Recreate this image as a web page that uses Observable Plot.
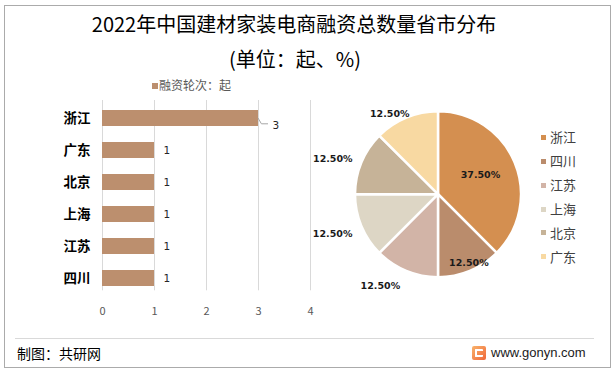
<!DOCTYPE html>
<html>
<head>
<meta charset="utf-8">
<script src="https://cdn.jsdelivr.net/npm/d3@7"></script>
<script src="https://cdn.jsdelivr.net/npm/@observablehq/plot@0.6"></script>
<style>
  html, body { margin: 0; padding: 0; background: #fff; }
  #root { position: relative; width: 616px; height: 375px; overflow: hidden; font-family: "Noto Sans CJK SC", sans-serif; }
  .abs { position: absolute; white-space: nowrap; }
  .abs svg { overflow: visible; }
</style>
</head>
<body>
<div id="root"></div>
<script>
// ---- data ----
const titleText = "2022年中国建材家装电商融资总数量省市分布";
const subtitleText = "(单位：起、%)";
const barSeriesName = "融资轮次：起";
const barCategories = ["浙江", "广东", "北京", "上海", "江苏", "四川"];
const barValues = [3, 1, 1, 1, 1, 1];
const xTicks = [0, 1, 2, 3, 4];
const pieCategories = ["浙江", "四川", "江苏", "上海", "北京", "广东"];
const pieShares = [37.5, 12.5, 12.5, 12.5, 12.5, 12.5];
const pieColors = ["#D48F50", "#BA8C6C", "#D2B4A7", "#DDD6C5", "#C6B398", "#F8D9A2"];
const barColor = "#BC8F6E";
const sourceText = "制图：共研网";
const siteText = "www.gonyn.com";

// ---- layout helpers (positions / styles only) ----
const root = document.getElementById("root");
function addDiv(css, text) {
  const d = document.createElement("div");
  d.className = "abs";
  d.style.cssText = css;
  if (text != null) d.textContent = text;
  root.appendChild(d);
  return d;
}

// frame and footer separator
addDiv("left:4px;top:5px;width:607px;height:363px;border:1px solid #ABABAB;box-sizing:border-box;");
addDiv("left:15px;top:338px;width:579px;height:1px;background:#D9D9D9;");

// title & subtitle
addDiv("left:0;width:588px;text-align:center;top:14px;font-size:20px;line-height:20px;color:#000;", titleText);
addDiv("left:0;width:590px;text-align:center;top:49px;font-size:20px;line-height:20px;color:#000;", subtitleText);

// bar legend
addDiv(`left:152px;top:83px;width:6px;height:6px;background:${barColor};`);
addDiv("left:159px;top:79px;font-size:12px;line-height:12px;color:#595959;", barSeriesName);

// ---- bar chart ----
const barData = barCategories.map((c, i) => ({category: c, value: barValues[i]}));
const maxValue = d3.max(barValues);
const maxCategory = barData.find(d => d.value === maxValue).category;

const barPlot = Plot.plot({
  width: 325,
  height: 330,
  marginLeft: 102,
  marginRight: 15,
  marginTop: 100,
  marginBottom: 34.7,
  style: {fontFamily: "'Noto Sans CJK SC', sans-serif", background: "transparent", overflow: "visible"},
  x: {domain: [0, 4]},
  y: {domain: barCategories, paddingInner: 0.5, paddingOuter: 0.25},
  marks: [
    Plot.ruleX(xTicks, {stroke: "#D9D9D9", strokeWidth: 1, insetBottom: 5}),
    Plot.barX(barData, {x: "value", y: "category", fill: barColor}),
    Plot.axisX(xTicks, {tickSize: 0, tickPadding: 11, fontSize: 11, fill: "#595959", color: "#595959", label: null}),
    Plot.axisY({tickSize: 0, tickPadding: 12, fontSize: 13.5, fontWeight: "bold", fill: "#000", color: "#000", label: null}),
    Plot.text(barData, {
      filter: d => d.value !== maxValue,
      x: "value", y: "category", text: d => String(d.value),
      dx: 9, textAnchor: "start", fontSize: 10.5, fontFamily: "DejaVu Sans", fill: "#262626"
    }),
    Plot.text(barData, {
      filter: d => d.value === maxValue,
      x: "value", y: "category", text: d => String(d.value),
      dx: 14, dy: 6.8, textAnchor: "start", fontSize: 10.5, fontFamily: "DejaVu Sans", fill: "#262626"
    }),
    (index, scales) => {
      const x0 = scales.x(maxValue);
      const bw = typeof scales.y.bandwidth === "function" ? scales.y.bandwidth() : 0;
      const yc = scales.y(maxCategory) + bw / 2;
      return d3.create("svg:path")
        .attr("d", `M${x0},${yc}L${x0 + 3.4},${yc + 5.8}L${x0 + 10},${yc + 5.8}`)
        .attr("fill", "none").attr("stroke", "#A6A6A6").attr("stroke-width", 1)
        .node();
    }
  ]
});
const barHolder = addDiv("left:0;top:0;");
barHolder.appendChild(barPlot);

// ---- pie chart ----
const pieData = pieCategories.map((c, i) => ({category: c, share: pieShares[i], color: pieColors[i]}));
const arcs = d3.pie().sort(null).value(d => d.share).startAngle(0).endAngle(2 * Math.PI)(pieData);
// label placement: radius as fraction of pie radius, angular offset (deg) from slice middle
const labelPlacement = [
  {r: 0.56, da: -3},
  {r: 0.91, da: -1.2},
  {r: 1.31, da: 9.8},
  {r: 1.36, da: 2.2},
  {r: 1.345, da: -3.7},
  {r: 1.14, da: -8.5}
];
const labelData = arcs.map((a, i) => {
  const mid = (a.startAngle + a.endAngle) / 2 + labelPlacement[i].da * Math.PI / 180;
  const r = labelPlacement[i].r;
  return {x: r * Math.sin(mid), y: r * Math.cos(mid), text: a.data.share.toFixed(2) + "%"};
});

const piePlot = Plot.plot({
  width: 310,
  height: 220,
  marginLeft: 55,
  marginRight: 89,
  marginTop: 21.7,
  marginBottom: 33.3,
  style: {background: "transparent", overflow: "visible"},
  x: {domain: [-1, 1], axis: null},
  y: {domain: [-1, 1], axis: null},
  marks: [
    (index, scales) => {
      const cx = scales.x(0), cy = scales.y(0);
      const r = scales.x(1) - scales.x(0);
      const g = d3.create("svg:g").attr("transform", `translate(${cx},${cy})`);
      const arc = d3.arc().innerRadius(0).outerRadius(r);
      g.selectAll("path").data(arcs).join("path")
        .attr("d", arc)
        .attr("fill", d => d.data.color)
        .attr("stroke", "#fff")
        .attr("stroke-width", 2.5)
        .attr("stroke-linejoin", "round");
      return g.node();
    },
    Plot.text(labelData, {
      x: "x", y: "y", text: "text",
      fontFamily: "DejaVu Sans", fontWeight: "bold", fontSize: 9.5, fill: "#1A1A1A",
      textAnchor: "middle", lineAnchor: "middle"
    })
  ]
});
const pieHolder = addDiv("left:300px;top:90px;");
pieHolder.appendChild(piePlot);

// pie legend
const legendTop = 137.3, legendStep = 23.9;
pieData.forEach((d, i) => {
  const cy = legendTop + i * legendStep;
  addDiv(`left:541px;top:${cy - 2.5}px;width:5px;height:5px;background:${d.color};`);
  addDiv(`left:550px;top:${cy - 7.3}px;font-size:13px;line-height:13px;color:#404040;`, d.category);
});

// footer
addDiv("left:17px;top:346px;font-size:14px;line-height:14px;color:#000;", sourceText);
const logo = addDiv("left:472px;top:346px;width:14px;height:14px;border-radius:2px;background:linear-gradient(135deg,#F9B36B,#F0683A);");
const inner = document.createElement("div");
inner.style.cssText = "position:absolute;left:3px;top:3px;width:8px;height:8px;border:2px solid #fff;border-right:none;box-sizing:border-box;border-radius:1px;";
logo.appendChild(inner);
addDiv("left:491px;top:346px;font-family:'Liberation Sans',Arial,sans-serif;font-size:13px;line-height:13px;color:#1A1A1A;", siteText);
</script>
</body>
</html>
